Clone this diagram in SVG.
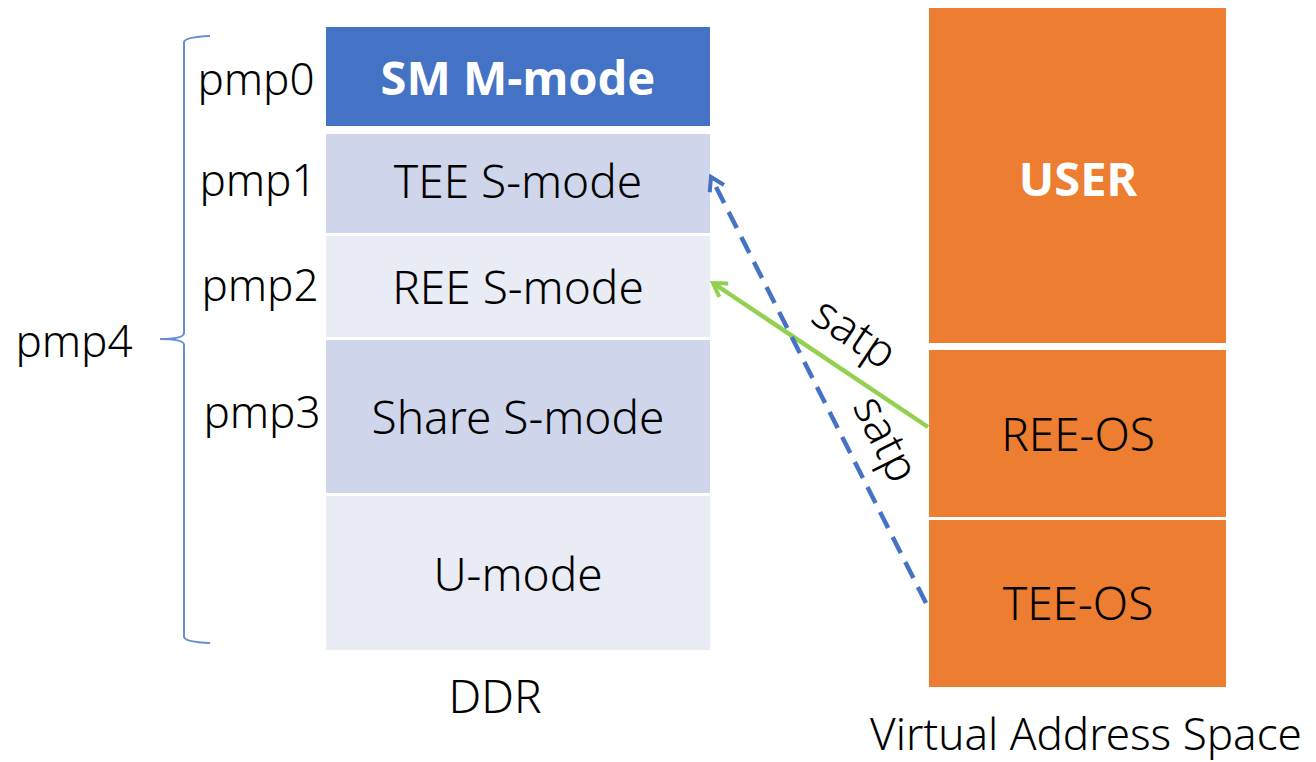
<svg xmlns="http://www.w3.org/2000/svg" width="1316" height="762" viewBox="0 0 1316 762">
<defs>
<style>
text{font-family:"Noto Sans","Open Sans","DejaVu Sans",sans-serif;font-size:46px;font-weight:300;fill:#000;}
.c{text-anchor:middle;}
.p{font-size:44px;}
.b{font-weight:bold;fill:#fff;font-size:47px;}
.dark{fill:#CFD5EA;}
.light{fill:#E9EBF5;}
.org{fill:#ED7D31;}
</style>
<marker id="ab" viewBox="0 0 20 20" refX="17" refY="10" markerWidth="20" markerHeight="20" markerUnits="userSpaceOnUse" orient="auto">
<path d="M4,2 L17,10 L4,18" fill="none" stroke="#4472C4" stroke-width="4"/>
</marker>
<marker id="ag" viewBox="0 0 20 20" refX="17" refY="10" markerWidth="20" markerHeight="20" markerUnits="userSpaceOnUse" orient="auto">
<path d="M4,2 L17,10 L4,18" fill="none" stroke="#92D050" stroke-width="4"/>
</marker>
</defs>
<rect width="1316" height="762" fill="#fff"/>
<g id="brace"><path d="M210,36 Q185,37 184,42 L184,333 Q184,339 160,339 Q184,339 184,345 L184,637 Q185,642 210,643" fill="none" stroke="#4472C4" stroke-width="2" opacity="0.8"/></g>
<g id="pmp-labels">
<text x="256" y="95" class="c p">pmp0</text>
<text x="258" y="196" class="c p">pmp1</text>
<text x="260" y="301" class="c p">pmp2</text>
<text x="262" y="428" class="c p">pmp3</text>
<text x="74" y="357" class="c p">pmp4</text>
</g>
<g id="ddr-sm"><rect x="326" y="27" width="384" height="99" fill="#4472C4"/><text x="518" y="95" class="c b">SM M-mode</text></g>
<g id="ddr-tee"><rect x="326" y="134" width="384" height="99" class="dark"/><text x="518" y="198" class="c">TEE S-mode</text></g>
<g id="ddr-ree"><rect x="326" y="236" width="384" height="101" class="light"/><text x="518" y="304" class="c">REE S-mode</text></g>
<g id="ddr-share"><rect x="326" y="340" width="384" height="153" class="dark"/><text x="518" y="434" class="c">Share S-mode</text></g>
<g id="ddr-u"><rect x="326" y="496" width="384" height="154" class="light"/><text x="518" y="591" class="c">U-mode</text></g>
<text x="495" y="713" class="c">DDR</text>
<g id="va-user"><rect x="929" y="8" width="297" height="335" class="org"/><text x="1078" y="196" class="c b">USER</text></g>
<g id="va-ree"><rect x="929" y="350" width="297" height="167" class="org"/><text x="1078" y="451" class="c">REE-OS</text></g>
<g id="va-tee"><rect x="929" y="520" width="297" height="167" class="org"/><text x="1078" y="620" class="c">TEE-OS</text></g>
<text x="1086" y="750" class="c p">Virtual Address Space</text>
<g id="connectors">
<line x1="928" y1="427" x2="713" y2="283" stroke="#92D050" stroke-width="4.5" marker-end="url(#ag)"/>
<line x1="926" y1="603" x2="711" y2="177" stroke="#4472C4" stroke-width="4.5" stroke-dasharray="18,10" marker-end="url(#ab)"/>
<text transform="translate(846,346) rotate(33.8)" class="c">satp</text>
<text transform="translate(872,446) rotate(63.3)" class="c">satp</text>
</g>
</svg>
